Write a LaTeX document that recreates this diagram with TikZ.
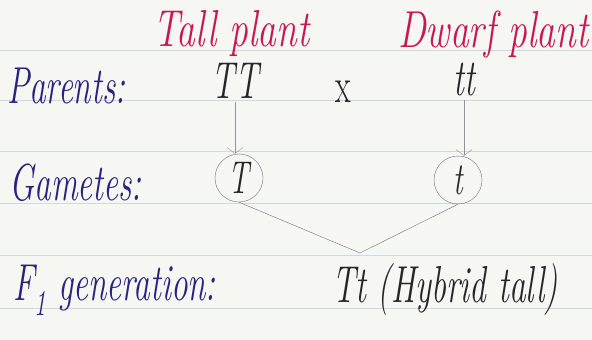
\documentclass[tikz,border=0pt]{standalone}
\usepackage{fontspec}
\newfontfamily\mano{Latin Modern Roman}[FakeStretch=0.64]
\newfontfamily\manoancha{Latin Modern Roman}[FakeStretch=0.72]
\usepackage{xcolor}
\usepackage{tikz}
\usetikzlibrary{arrows.meta,positioning}
\definecolor{tinta}{RGB}{42,34,128}
\definecolor{rojo}{RGB}{200,24,82}
\definecolor{papel}{RGB}{246,246,243}
\definecolor{renglon}{RGB}{210,215,223}
\tikzset{
  etiq/.style={anchor=base west,inner sep=0pt,text=tinta,font=\fontsize{52}{56}\mano\itshape},
  planta/.style={anchor=base west,inner sep=0pt,text=rojo,font=\fontsize{52}{56}\manoancha\itshape},
  gen/.style={anchor=base,inner sep=0pt,text=black!85,font=\fontsize{52}{56}\mano\itshape},
  gameto/.style={circle,draw=black!55,thin,minimum size=48pt,inner sep=0pt,text=black!85,font=\fontsize{46}{50}\mano\itshape},
  flecha/.style={-{Straight Barb[length=6pt,width=16pt]},gray!85,thin,shorten <=4pt},
  union/.style={black!55,thin}
}

\begin{document}
\begin{tikzpicture}[x=1pt,y=-1pt]
\fill[papel] (0,0) rectangle (592,340);
\useasboundingbox (0,0) rectangle (592,340);
\foreach \y in {50,100,151,203,255,308}{\draw[renglon,line width=0.8pt] (0,\y)--(592,\y);}
\node[planta] (alta) at (153,46) {Tall plant};
\node[planta] (enana) at (398,47) {Dwarf plant};
\node[etiq] (padres) at (7,103) {Parents:};
\node[etiq] (gametos) at (9,200) {Gametes:};
\node[etiq] (filial) at (13,300) {F\textsubscript{1} generation:};
\node[gen] (TT) at (235,98) {TT};
\node[gen,font=\fontsize{50}{54}\mano\upshape] (cruz) at (343,102) {x};
\node[gen] (tt) at (464,95) {tt};
\node[gameto] (gT) at (239,178) {T};
\node[gameto] (gt) at (458,180) {t};
\coordinate (cruce) at (360,253);
\node[gen,anchor=base west] (hibrido) at (332,302) {Tt (Hybrid tall)};
\draw[flecha] (TT.south)--(TT.south |- gT.north);
\draw[flecha] (tt.south)--(tt.south |- gt.north);
\draw[union] (gT.south)--(cruce)--(gt.south);
\end{tikzpicture}
\end{document}
